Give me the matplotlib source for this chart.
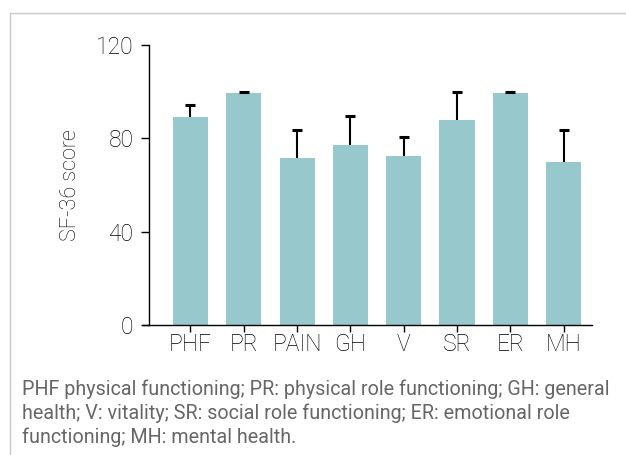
import matplotlib
matplotlib.use("Agg")
import matplotlib.pyplot as plt
from matplotlib.lines import Line2D

categories = ["PHF", "PR", "PAIN", "GH", "V", "SR", "ER", "MH"]
means = [89.2, 99.4, 71.6, 77.1, 72.4, 87.9, 99.4, 69.9]
upper_err = [5.3, 0.6, 12.0, 12.6, 8.2, 12.0, 0.6, 13.7]
y_ticks = [0, 40, 80, 120]
caption_lines = [
    "PHF physical functioning; PR: physical role functioning; GH: general",
    "health; V: vitality; SR: social role functioning; ER: emotional role",
    "functioning; MH: mental health.",
]

plt.rcParams["font.family"] = ["Roboto", "DejaVu Sans"]

fig = plt.figure(figsize=(6.26, 4.55), dpi=100)
ax = fig.add_axes([143 / 626, 1 - 325 / 455, (592 - 143) / 626, 280 / 455])

x = list(range(len(categories)))
ax.bar(x, means, width=0.66, color="#97c8cc", zorder=2)
eb = ax.errorbar(x, means, yerr=[[0] * len(x), upper_err], fmt="none",
                 ecolor="black", elinewidth=1.5, capsize=3.4, capthick=2.2,
                 zorder=3)
eb[1][0].set_visible(False)

ax.set_xlim(-0.89, 7.53)
ax.set_ylim(0, 120)
ax.set_yticks(y_ticks)
ax.set_xticks(x)
ax.set_xticklabels(categories)

for side in ("top", "right"):
    ax.spines[side].set_visible(False)
ax.spines["left"].set_position(("data", -0.78))
ax.spines["left"].set_bounds(0, 120)
for side in ("left", "bottom"):
    ax.spines[side].set_linewidth(1.0)

ax.tick_params(axis="y", length=6, width=1, labelsize=16.5, pad=5,
               labelcolor="black")
ax.tick_params(axis="x", length=5, width=1, labelsize=16.5, pad=1,
               labelcolor="black")
for lbl in ax.get_xticklabels() + ax.get_yticklabels():
    lbl.set_fontweight("light")
ax.set_ylabel("SF-36 score", fontsize=15.5, color="black", labelpad=11,
              fontweight="light")

# panel border (top and left edges)
fig.add_artist(Line2D([10 / 626, 1.0], [1 - 13 / 455, 1 - 13 / 455],
                      transform=fig.transFigure, color="#c8c8c8", lw=1))
fig.add_artist(Line2D([10 / 626, 10 / 626], [0, 1 - 13 / 455],
                      transform=fig.transFigure, color="#c8c8c8", lw=1))

for i, line in enumerate(caption_lines):
    fig.text(22 / 626, 1 - (389 + i * 24) / 455, line, fontsize=14.2,
             color="#666666", va="center", ha="left")

fig.savefig("out.png", dpi=100)
